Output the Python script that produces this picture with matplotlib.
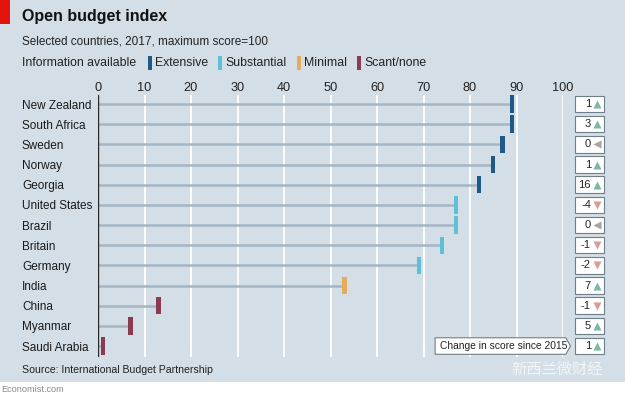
import matplotlib
matplotlib.use("Agg")
import matplotlib.pyplot as plt
from matplotlib.patches import Rectangle, Polygon

countries = ["New Zealand", "South Africa", "Sweden", "Norway", "Georgia",
             "United States", "Brazil", "Britain", "Germany", "India",
             "China", "Myanmar", "Saudi Arabia"]
scores = [89, 89, 87, 85, 82, 77, 77, 74, 69, 53, 13, 7, 1]
levels = ["Extensive", "Extensive", "Extensive", "Extensive", "Extensive",
          "Substantial", "Substantial", "Substantial", "Substantial", "Minimal",
          "Scant/none", "Scant/none", "Scant/none"]
changes = [1, 3, 0, 1, 16, -4, 0, -1, -2, 7, -1, 5, 1]
xticks = [0, 10, 20, 30, 40, 50, 60, 70, 80, 90, 100]

level_colors = {"Extensive": "#1f5a86", "Substantial": "#5cc0d8",
                "Minimal": "#e6ac5e", "Scant/none": "#8a3b50"}

plt.rcParams["font.family"] = ["Liberation Sans", "DejaVu Sans"]

BG = "#d3dee6"
W, H = 625, 398
fig = plt.figure(figsize=(W / 100, H / 100), dpi=100)
fig.patch.set_facecolor(BG)

fig.patches.append(Rectangle((0, 0), 1, 16 / H, transform=fig.transFigure,
                             facecolor="white", edgecolor="none", zorder=0))
fig.patches.append(Rectangle((0, 1 - 24 / H), 10 / W, 24 / H, transform=fig.transFigure,
                             facecolor="#e3120b", edgecolor="none", zorder=1))

def fx(px):
    return px / W

def fy(py):
    return 1 - py / H

x0, x100 = 98, 563
top_px, bot_px = 95, 357
row0, rowstep = 104, 20.17
ax = fig.add_axes([fx(x0), fy(bot_px), (x100 - x0) / W, (bot_px - top_px) / H])
ax.set_facecolor("none")
ax.set_xlim(0, 100)
ax.set_ylim(12 + (bot_px - (row0 + 12 * rowstep)) / rowstep, -(row0 - top_px) / rowstep)
for s in ax.spines.values():
    s.set_visible(False)

for t in xticks:
    ax.axvline(t, color="white", lw=1.3, zorder=1)
ax.axvline(0, color="#2b2b2b", lw=1.0, zorder=4)

ax.xaxis.tick_top()
ax.set_xticks(xticks)
ax.set_xticklabels([str(t) for t in xticks], fontsize=9.2, color="#222222")
ax.tick_params(axis="x", length=0, pad=1)
ys = list(range(len(countries)))
ax.set_yticks(ys)
ax.set_yticklabels(countries, fontsize=8.5, color="#1a1a1a", ha="left")
ax.tick_params(axis="y", length=0, pad=(x0 - 22) * 0.72)

for i, (sc, lv) in enumerate(zip(scores, levels)):
    ax.plot([0, sc], [i, i], color="#a4b6c3", lw=1.8, zorder=2, solid_capstyle="butt")
    ax.add_patch(Rectangle((sc - 0.45, i - 0.43), 0.9, 0.86, facecolor=level_colors[lv],
                           edgecolor="none", zorder=3))

# change boxes
bx0, bx1 = 102.6, 108.8
for i, ch in enumerate(changes):
    ax.add_patch(Rectangle((bx0, i - 0.41), bx1 - bx0, 0.82, facecolor="white",
                           edgecolor="#6f7f8a", lw=0.8, clip_on=False, zorder=3))
    ax.text(106.0, i, str(ch), ha="right", va="center", fontsize=8,
            color="#222222", clip_on=False, zorder=4)
    if ch > 0:
        m, c = "^", "#7db7a6"
    elif ch < 0:
        m, c = "v", "#d99e96"
    else:
        m, c = "<", "#aaa3a3"
    ax.scatter([107.4], [i], marker=m, s=34, color=c, clip_on=False, zorder=4,
               linewidths=0)

# callout
cy = 12
ax.add_patch(Polygon([(72.5, cy - 0.41), (100.6, cy - 0.41), (101.6, cy),
                      (100.6, cy + 0.41), (72.5, cy + 0.41)], closed=True,
                     facecolor="white", edgecolor="#6f7f8a", lw=0.8, clip_on=False, zorder=3))
ax.text(73.6, cy, "Change in score since 2015", ha="left", va="center", fontsize=7.4,
        color="#222222", clip_on=False, zorder=4)

# titles
fig.text(fx(22), fy(17), "Open budget index", fontsize=11.5, fontweight="bold",
         color="#111111", va="center", ha="left")
fig.text(fx(22), fy(41), "Selected countries, 2017, maximum score=100", fontsize=8.5,
         color="#222222", va="center", ha="left")
fig.text(fx(22), fy(63), "Information available", fontsize=8.8,
         color="#222222", va="center", ha="left")
leg = [("Extensive", 148), ("Substantial", 218), ("Minimal", 297), ("Scant/none", 357)]
for name, px in leg:
    fig.patches.append(Rectangle((fx(px), fy(70)), 3.5 / W, 14 / H, transform=fig.transFigure,
                                 facecolor=level_colors[name], edgecolor="none"))
    fig.text(fx(px + 7), fy(63), name, fontsize=8.8, color="#222222",
             va="center", ha="left")

fig.text(fx(22), fy(370), "Source: International Budget Partnership", fontsize=7.6,
         color="#222222", va="center", ha="left")
fig.text(fx(1), fy(390), "Economist.com", fontsize=6.6, color="#8a8a8a",
         va="center", ha="left")
fig.text(fx(603), fy(369), "新西兰微财经", fontsize=11, color="#f2f5f7",
         va="center", ha="right", family=["Noto Sans CJK SC", "DejaVu Sans"])

fig.savefig("out.png", dpi=100, facecolor=fig.get_facecolor())
